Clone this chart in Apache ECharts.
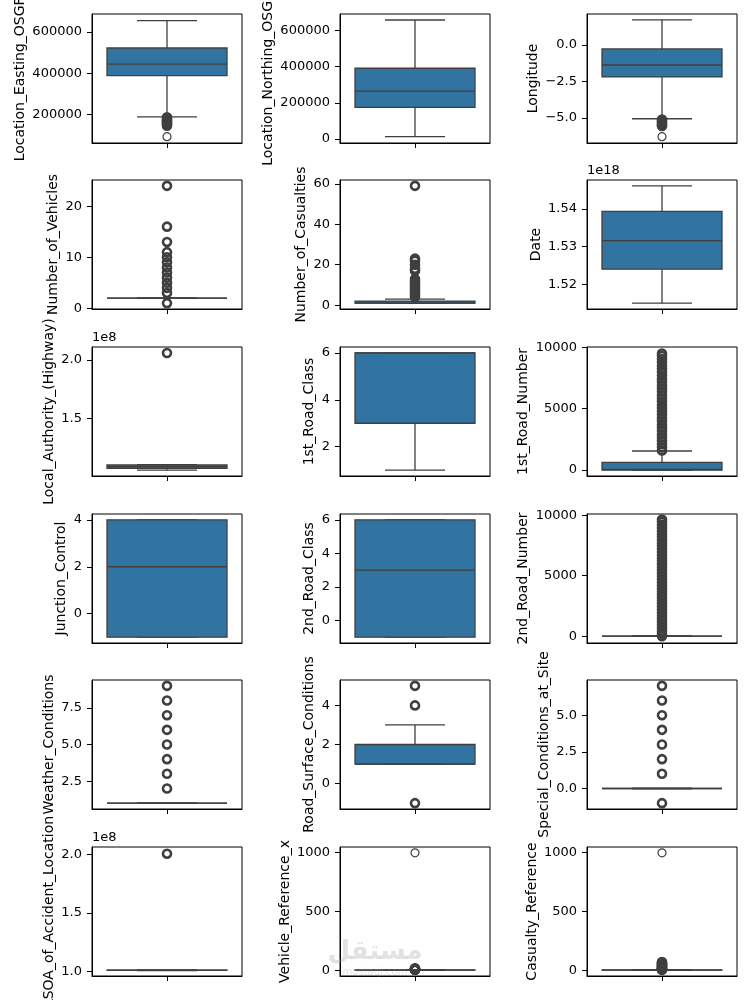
<!DOCTYPE html>
<html>
<head>
<meta charset="utf-8">
<script src="https://cdn.jsdelivr.net/npm/echarts@6.0.0/dist/echarts.min.js"></script>
<style>
  html, body { margin: 0; padding: 0; background: #fff; }
  #chart { width: 750px; height: 1000px; }
</style>
</head>
<body>
<div id="chart"></div>
<script>
// column names, one box per panel (3 per row)
const labels = [
  'Location_Easting_OSGR', 'Location_Northing_OSGR', 'Longitude',
  'Number_of_Vehicles', 'Number_of_Casualties', 'Date',
  'Local_Authority_(Highway)', '1st_Road_Class', '1st_Road_Number',
  'Junction_Control', '2nd_Road_Class', '2nd_Road_Number',
  'Weather_Conditions', 'Road_Surface_Conditions', 'Special_Conditions_at_Site',
  'LSOA_of_Accident_Location', 'Vehicle_Reference_x', 'Casualty_Reference'
]

// [lower whisker, Q1, median, Q3, upper whisker]
const boxStats = [
  [189000, 389000, 445000, 522500, 655000],
  [12700, 174600, 264600, 391000, 657500],
  [-5.05, -2.19, -1.37, -0.27, 1.72],
  [2, 2, 2, 2, 2],
  [1, 1, 1, 2, 3],
  [1.51497e18, 1.5240e18, 1.5316e18, 1.53936e18, 1.54617e18],
  [1.059e8, 1.075e8, 1.09e8, 1.104e8, 1.106e8],
  [1, 3, 6, 6, 6],
  [0, 0, 40, 628, 1548],
  [-1, -1, 2, 4, 4],
  [-1, -1, 3, 6, 6],
  [0, 0, 0, 0, 0],
  [1, 1, 1, 1, 1],
  [1, 1, 1, 2, 3],
  [0, 0, 0, 0, 0],
  [1.009e8, 1.011e8, 1.012e8, 1.013e8, 1.015e8],
  [1, 1, 1, 2, 3],
  [1, 1, 1, 2, 3]
]

// outliers that occur many times (drawn heavy, as overlapping markers look)
const fliers = [
  [187000, 182000, 177000, 172000, 167000, 162000, 157000, 152000, 147000],
  [],
  [-5.1, -5.2, -5.3, -5.4, -5.5, -5.55],
  [1, 3, 4, 5, 6, 7, 8, 9, 10, 11, 13, 16, 24],
  [4, 5, 6, 7, 8, 9, 10, 11, 12, 13, 17, 18, 20, 22, 23, 59],
  [],
  [2.06e8],
  [],
  [1600, 1850, 2100, 2400, 2650, 2900, 3200, 3450, 3700, 4000, 4250, 4500, 4800, 5050,
   5300, 5600, 5850, 6100, 6400, 6650, 6900, 7200, 7450, 7700, 8000, 8250, 8500, 8800,
   9050, 9300, 9500],
  [],
  [],
  [5, 200, 450, 700, 950, 1200, 1450, 1700, 1950, 2200, 2450, 2700, 2950, 3200, 3450,
   3700, 3950, 4200, 4450, 4700, 4950, 5200, 5450, 5700, 5950, 6200, 6450, 6700, 6950,
   7200, 7450, 7700, 7950, 8200, 8450, 8700, 8950, 9200, 9450, 9650],
  [2, 3, 4, 5, 6, 7, 8, 9],
  [-1, 4, 5],
  [-1, 1, 2, 3, 4, 5, 6, 7],
  [2.005e8],
  [4, 5, 6, 7, 8, 9, 10, 12, 14, 16],
  [4, 6, 8, 10, 13, 16, 20, 25, 30, 35, 40, 45, 50, 55, 60, 65, 70]
]

// outliers seen once (thin marker)
const rareFliers = [
  [93500], [], [-6.28], [], [], [], [], [], [], [], [], [], [], [], [], [], [999], [999]
]

// y tick values
const yTicks = [
  [200000, 400000, 600000],
  [0, 200000, 400000, 600000],
  [-5, -2.5, 0],
  [0, 10, 20],
  [0, 20, 40, 60],
  [1.52e18, 1.53e18, 1.54e18],
  [1.5e8, 2.0e8],
  [2, 4, 6],
  [0, 5000, 10000],
  [0, 2, 4],
  [0, 2, 4, 6],
  [0, 5000, 10000],
  [2.5, 5, 7.5],
  [0, 2, 4],
  [0, 2.5, 5],
  [1.0e8, 1.5e8, 2.0e8],
  [0, 500, 1000],
  [0, 500, 1000]
]

// y axis extents
const yRanges = [
  [63000, 687000], [-22000, 690600], [-6.71, 2.12],
  [-0.15, 25.15], [-1.9, 61.9], [1.51341e18, 1.54773e18],
  [1.009e8, 2.111e8], [0.75, 6.25], [-490, 10033],
  [-1.25, 4.25], [-1.35, 6.35], [-560, 10100],
  [0.6, 9.4], [-1.3, 5.3], [-1.4, 7.4],
  [0.963e8, 2.062e8], [-48.9, 1048.9], [-48.9, 1048.9]
]

const tickDecimals = [0, 0, 1, 0, 0, 2, 1, 0, 0, 0, 0, 0, 1, 0, 1, 1, 0, 0]
const offsetExp = [0, 0, 0, 0, 0, 18, 8, 0, 0, 0, 0, 0, 0, 0, 0, 8, 0, 0]

const BOX = '#3274a1'
const LINE = '#3f3f3f'
const FONT = 'DejaVu Sans'

const colLeft = [92, 340, 587]
const rowTop = [14, 180, 347, 514, 680, 847]
const plotW = 150
const plotH = 129

function fmt(v, i) {
  const s = (v / Math.pow(10, offsetExp[i])).toFixed(tickDecimals[i])
  return s.replace('-', '\u2212')
}

// seaborn-like box: caps half the box width
function renderBox(params, api) {
  const lo = api.coord([0, api.value(1)])
  const q1 = api.coord([0, api.value(2)])
  const md = api.coord([0, api.value(3)])
  const q3 = api.coord([0, api.value(4)])
  const hi = api.coord([0, api.value(5)])
  const band = api.size([1, 0])[0]
  const cx = md[0]
  const bw = band * 0.8
  const cw = band * 0.4
  const ls = { stroke: LINE, lineWidth: 1.3 }
  return {
    type: 'group',
    children: [
      { type: 'line', shape: { x1: cx, y1: q3[1], x2: cx, y2: hi[1] }, style: ls },
      { type: 'line', shape: { x1: cx, y1: q1[1], x2: cx, y2: lo[1] }, style: ls },
      { type: 'line', shape: { x1: cx - cw / 2, y1: hi[1], x2: cx + cw / 2, y2: hi[1] }, style: ls },
      { type: 'line', shape: { x1: cx - cw / 2, y1: lo[1], x2: cx + cw / 2, y2: lo[1] }, style: ls },
      {
        type: 'rect',
        shape: { x: cx - bw / 2, y: q3[1], width: bw, height: q1[1] - q3[1] },
        style: { fill: BOX, stroke: LINE, lineWidth: 1.3 }
      },
      { type: 'line', shape: { x1: cx - bw / 2, y1: md[1], x2: cx + bw / 2, y2: md[1] }, style: ls }
    ]
  }
}

const ctx = document.createElement('canvas').getContext('2d')
ctx.font = '13px "' + FONT + '"'

const grid = []
const xAxis = []
const yAxis = []
const series = []
const graphic = []

labels.forEach((name, i) => {
  const left = colLeft[i % 3]
  const top = rowTop[Math.floor(i / 3)]
  grid.push({
    left: left, top: top, width: plotW, height: plotH,
    outerBoundsMode: 'none', containLabel: false,
    show: true, borderColor: '#000', borderWidth: 1, backgroundColor: '#fff'
  })
  xAxis.push({
    type: 'category', gridIndex: i, data: [''],
    axisLine: { show: true, onZero: false, lineStyle: { color: '#000', width: 1 } },
    axisTick: { show: true, alignWithLabel: true, length: 5, lineStyle: { color: '#000' } },
    axisLabel: { show: false },
    splitLine: { show: false }
  })
  const w = Math.max(...yTicks[i].map(v => ctx.measureText(fmt(v, i)).width))
  yAxis.push({
    type: 'value', gridIndex: i,
    min: yRanges[i][0], max: yRanges[i][1],
    name: name, nameLocation: 'middle', nameRotate: 90, nameGap: 10 + w + 5,
    nameTextStyle: { color: '#000', fontFamily: FONT, fontSize: 14 },
    axisLine: { show: true, onZero: false, lineStyle: { color: '#000', width: 1 } },
    axisTick: { show: true, length: 5, customValues: yTicks[i], lineStyle: { color: '#000' } },
    axisLabel: {
      margin: 10, customValues: yTicks[i], color: '#000', fontFamily: FONT, fontSize: 13,
      formatter: v => fmt(v, i)
    },
    splitLine: { show: false }
  })
  series.push({
    type: 'custom', xAxisIndex: i, yAxisIndex: i,
    renderItem: renderBox,
    data: [[0].concat(boxStats[i])],
    encode: { x: 0, y: [1, 2, 3, 4, 5] },
    z: 2
  })
  series.push({
    type: 'scatter', xAxisIndex: i, yAxisIndex: i,
    data: fliers[i].map(v => [0, v]),
    symbol: 'circle', symbolSize: 8,
    itemStyle: { color: 'rgba(0,0,0,0)', borderColor: LINE, borderWidth: 2.6, opacity: 1 },
    z: 3, silent: true
  })
  series.push({
    type: 'scatter', xAxisIndex: i, yAxisIndex: i,
    data: rareFliers[i].map(v => [0, v]),
    symbol: 'circle', symbolSize: 8,
    itemStyle: { color: 'rgba(0,0,0,0)', borderColor: LINE, borderWidth: 1.2, opacity: 1 },
    z: 3, silent: true
  })
  if (offsetExp[i]) {
    graphic.push({
      type: 'text', x: left, y: top - 3,
      style: { text: '1e' + offsetExp[i], fill: '#000', font: '13px "' + FONT + '"', verticalAlign: 'bottom' }
    })
  }
})

// faint watermark
graphic.push({
  type: 'text', x: 375, y: 952, z: 10,
  style: { text: 'مستقل', fill: 'rgba(160,160,160,0.3)', font: 'bold 26px "' + FONT + '"', align: 'center', verticalAlign: 'middle' }
})
graphic.push({
  type: 'text', x: 375, y: 972, z: 10,
  style: { text: 'mostaql.com', fill: 'rgba(160,160,160,0.3)', font: '10px "' + FONT + '"', align: 'center', verticalAlign: 'middle' }
})

const chart = echarts.init(document.getElementById('chart'), null, { renderer: 'canvas' })
chart.setOption({
  animation: false,
  backgroundColor: '#fff',
  grid: grid,
  xAxis: xAxis,
  yAxis: yAxis,
  series: series,
  graphic: graphic
})
</script>
</body>
</html>
